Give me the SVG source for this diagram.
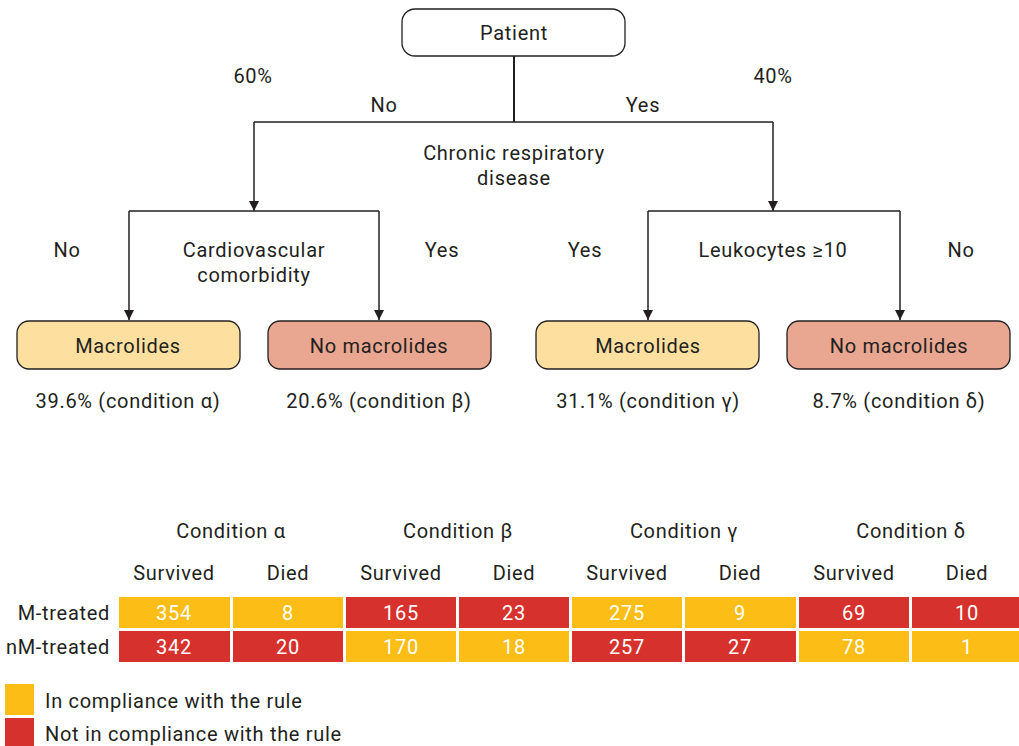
<svg xmlns="http://www.w3.org/2000/svg" width="1019" height="746" viewBox="0 0 1019 746">
<style>
text{font-family:Roboto,"Liberation Sans",sans-serif;font-size:20px;letter-spacing:0.7px;fill:#231f20;text-anchor:middle}
.l{text-anchor:start}
.r{text-anchor:end}
.w{fill:#ffffff}
.ln{fill:none;stroke:#231f20;stroke-width:1.5}
.box{stroke:#231f20;stroke-width:1.3}
.y{fill:#fbbd16}
.rd{fill:#d7312e}
</style>
<defs>
<marker id="ah" viewBox="0 0 10 10" refX="10" refY="5" markerWidth="10" markerHeight="10" markerUnits="userSpaceOnUse" orient="auto">
<path d="M0,0 L10,5 L0,10 z" fill="#231f20"/>
</marker>
</defs>
<g id="connectors">
<path class="ln" d="M514,56 V122" style="stroke-width:2"/>
<path class="ln" d="M254,122 H773"/>
<path class="ln" d="M254,122 V211" marker-end="url(#ah)"/>
<path class="ln" d="M773,122 V211" marker-end="url(#ah)"/>
<path class="ln" d="M129,211 H379"/>
<path class="ln" d="M129,211 V320" marker-end="url(#ah)"/>
<path class="ln" d="M379,211 V320" marker-end="url(#ah)"/>
<path class="ln" d="M648,211 H900"/>
<path class="ln" d="M648,211 V320" marker-end="url(#ah)"/>
<path class="ln" d="M900,211 V320" marker-end="url(#ah)"/>
</g>
<g id="patient">
<rect x="402" y="9" width="223" height="47" rx="13" fill="#ffffff" class="box"/>
<text x="514" y="40">Patient</text>
</g>
<g id="labels">
<text x="253" y="83">60%</text>
<text x="773" y="83">40%</text>
<text x="384" y="112">No</text>
<text x="643" y="112">Yes</text>
<text x="514" y="160">Chronic respiratory</text>
<text x="514" y="185">disease</text>
<text x="67" y="257">No</text>
<text x="254" y="257">Cardiovascular</text>
<text x="254" y="282">comorbidity</text>
<text x="442" y="257">Yes</text>
<text x="585" y="257">Yes</text>
<text x="773" y="257">Leukocytes ≥10</text>
<text x="961" y="257">No</text>
</g>
<g id="node-alpha">
<rect x="17" y="321" width="223" height="48" rx="12" fill="#fde0a0" class="box"/>
<text x="128" y="353">Macrolides</text>
<text x="128" y="408">39.6% (condition α)</text>
</g>
<g id="node-beta">
<rect x="268" y="321" width="223" height="48" rx="12" fill="#e9a690" class="box"/>
<text x="379" y="353">No macrolides</text>
<text x="379" y="408">20.6% (condition β)</text>
</g>
<g id="node-gamma">
<rect x="536" y="321" width="223" height="48" rx="12" fill="#fde0a0" class="box"/>
<text x="648" y="353">Macrolides</text>
<text x="648" y="408">31.1% (condition γ)</text>
</g>
<g id="node-delta">
<rect x="787" y="321" width="223" height="48" rx="12" fill="#e9a690" class="box"/>
<text x="899" y="353">No macrolides</text>
<text x="899" y="408">8.7% (condition δ)</text>
</g>
<g id="table">
<text x="231" y="538">Condition α</text>
<text x="458" y="538">Condition β</text>
<text x="684" y="538">Condition γ</text>
<text x="911" y="538">Condition δ</text>
<text x="174" y="580">Survived</text>
<text x="288" y="580">Died</text>
<text x="401" y="580">Survived</text>
<text x="514" y="580">Died</text>
<text x="627" y="580">Survived</text>
<text x="740" y="580">Died</text>
<text x="854" y="580">Survived</text>
<text x="967" y="580">Died</text>
<text class="r" x="110" y="620">M-treated</text>
<text class="r" x="110" y="654">nM-treated</text>
<rect class="y" x="119" y="597" width="111" height="31"/>
<rect class="y" x="233" y="597" width="110" height="31"/>
<rect class="rd" x="346" y="597" width="110" height="31"/>
<rect class="rd" x="459" y="597" width="110" height="31"/>
<rect class="y" x="572" y="597" width="110" height="31"/>
<rect class="y" x="685" y="597" width="111" height="31"/>
<rect class="rd" x="799" y="597" width="110" height="31"/>
<rect class="rd" x="912" y="597" width="107" height="31"/>
<rect class="rd" x="119" y="631" width="111" height="31"/>
<rect class="rd" x="233" y="631" width="110" height="31"/>
<rect class="y" x="346" y="631" width="110" height="31"/>
<rect class="y" x="459" y="631" width="110" height="31"/>
<rect class="rd" x="572" y="631" width="110" height="31"/>
<rect class="rd" x="685" y="631" width="111" height="31"/>
<rect class="y" x="799" y="631" width="110" height="31"/>
<rect class="y" x="912" y="631" width="107" height="31"/>
<text class="w" x="174" y="620">354</text>
<text class="w" x="288" y="620">8</text>
<text class="w" x="401" y="620">165</text>
<text class="w" x="514" y="620">23</text>
<text class="w" x="627" y="620">275</text>
<text class="w" x="740" y="620">9</text>
<text class="w" x="854" y="620">69</text>
<text class="w" x="967" y="620">10</text>
<text class="w" x="174" y="654">342</text>
<text class="w" x="288" y="654">20</text>
<text class="w" x="401" y="654">170</text>
<text class="w" x="514" y="654">18</text>
<text class="w" x="627" y="654">257</text>
<text class="w" x="740" y="654">27</text>
<text class="w" x="854" y="654">78</text>
<text class="w" x="967" y="654">1</text>
</g>
<g id="legend">
<rect class="y" x="5" y="684" width="29" height="31"/>
<rect class="rd" x="5" y="718" width="29" height="28"/>
<text class="l" x="45" y="708">In compliance with the rule</text>
<text class="l" x="45" y="741">Not in compliance with the rule</text>
</g>
</svg>
